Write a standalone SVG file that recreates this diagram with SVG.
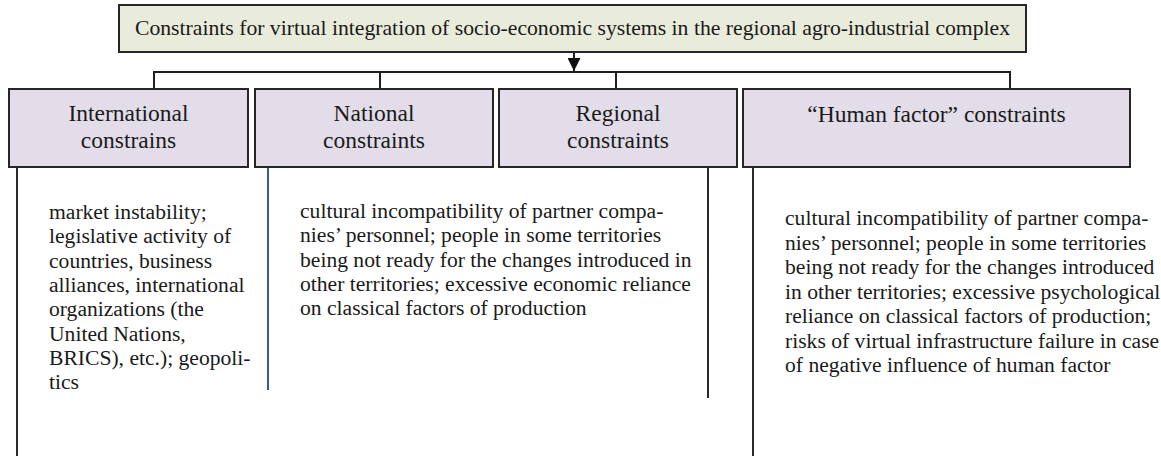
<svg xmlns="http://www.w3.org/2000/svg" width="1161" height="456" viewBox="0 0 1161 456">
  <style>
    .box { stroke: #262626; stroke-width: 2; }
    .root { fill: #e9ebdb; }
    .cat { fill: #e2dde9; }
    text { font-family: 'Liberation Serif', 'Times New Roman', Times, 'DejaVu Serif', serif; fill: #1a1a1a; }
    .title { font-size: 21.7px; text-anchor: middle; }
    .label { font-size: 23.5px; text-anchor: middle; }
    .body { font-size: 21.6px; }
    .wire { stroke: #1f1f1f; stroke-width: 2; fill: none; }
    .rule { stroke: #2a2a2a; stroke-width: 2; fill: none; }
    .rule-blue { stroke: #3b5998; stroke-width: 2; fill: none; }
  </style>
  <defs>
    <marker id="arrow" viewBox="0 0 12 12" refX="12" refY="6" markerWidth="13" markerHeight="13" markerUnits="userSpaceOnUse" orient="auto">
      <path d="M0,0 L12,6 L0,12 Z" fill="#111"/>
    </marker>
  </defs>

  <rect width="1161" height="456" fill="#ffffff"/>

  <!-- connectors: arrow from the root box into the bus, then drops to each category -->
  <g id="connectors">
    <line class="wire" x1="574" y1="52" x2="574" y2="71" marker-end="url(#arrow)"/>
    <polyline class="wire" points="154,89 154,72 1010,72 1010,89"/>
    <line class="wire" x1="380" y1="72" x2="380" y2="89"/>
    <line class="wire" x1="616" y1="72" x2="616" y2="89"/>
  </g>

  <!-- side rules under the category boxes -->
  <g id="rules">
    <line class="rule" x1="17" y1="166" x2="17" y2="456"/>
    <line class="rule-blue" x1="268" y1="167" x2="268" y2="390"/>
    <line class="rule" x1="708" y1="167" x2="708" y2="398"/>
    <line class="rule" x1="753" y1="165" x2="753" y2="456"/>
  </g>

  <g id="root">
    <rect class="box root" x="119" y="5" width="907" height="47"/>
    <text class="title" x="572.5" y="35">Constraints for virtual integration of socio-economic systems in the regional agro-industrial complex</text>
  </g>

  <g id="international">
    <rect class="box cat" x="9" y="89" width="239" height="78"/>
    <text class="label" x="128.5" y="120.5">International</text>
    <text class="label" x="128.5" y="148">constrains</text>
  </g>

  <g id="national">
    <rect class="box cat" x="255" y="89" width="238" height="78"/>
    <text class="label" x="374" y="120.5">National</text>
    <text class="label" x="374" y="148">constraints</text>
  </g>

  <g id="regional">
    <rect class="box cat" x="499" y="89" width="238" height="78"/>
    <text class="label" x="618" y="120.5">Regional</text>
    <text class="label" x="618" y="148">constraints</text>
  </g>

  <g id="human-factor">
    <rect class="box cat" x="743" y="89" width="387" height="78"/>
    <text class="label" x="936.5" y="122">“Human factor” constraints</text>
  </g>

  <g id="international-notes">
    <text class="body" x="49" y="219">
      <tspan x="49" y="219">market instability;</tspan>
      <tspan x="49" y="243.3">legislative activity of</tspan>
      <tspan x="49" y="267.6">countries, business</tspan>
      <tspan x="49" y="291.9">alliances, international</tspan>
      <tspan x="49" y="316.2">organizations (the</tspan>
      <tspan x="49" y="340.5">United Nations,</tspan>
      <tspan x="49" y="364.8">BRICS), etc.); geopoli-</tspan>
      <tspan x="49" y="389.1">tics</tspan>
    </text>
  </g>

  <g id="national-regional-notes">
    <text class="body" x="300" y="218">
      <tspan x="300" y="218">cultural incompatibility of partner compa-</tspan>
      <tspan x="300" y="242.3">nies’ personnel; people in some territories</tspan>
      <tspan x="300" y="266.6">being not ready for the changes introduced in</tspan>
      <tspan x="300" y="290.9">other territories; excessive economic reliance</tspan>
      <tspan x="300" y="315.2">on classical factors of production</tspan>
    </text>
  </g>

  <g id="human-factor-notes">
    <text class="body" x="785" y="225">
      <tspan x="785" y="225">cultural incompatibility of partner compa-</tspan>
      <tspan x="785" y="249.5">nies’ personnel; people in some territories</tspan>
      <tspan x="785" y="274">being not ready for the changes introduced</tspan>
      <tspan x="785" y="298.5">in other territories; excessive psychological</tspan>
      <tspan x="785" y="323">reliance on classical factors of production;</tspan>
      <tspan x="785" y="347.5">risks of virtual infrastructure failure in case</tspan>
      <tspan x="785" y="372">of negative influence of human factor</tspan>
    </text>
  </g>
</svg>
